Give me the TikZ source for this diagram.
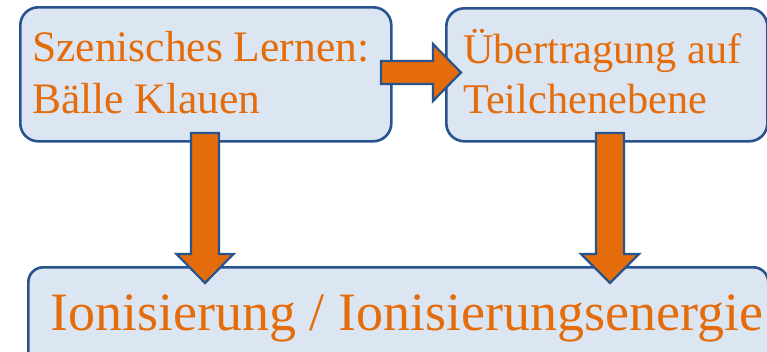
\documentclass[tikz,border=0pt]{standalone}
\usepackage{fontspec}
\setmainfont{Liberation Serif}
\definecolor{boxfill}{RGB}{220,230,243}
\definecolor{boxline}{RGB}{40,84,142}
\definecolor{orangetxt}{RGB}{228,108,10}
\begin{document}
\begin{tikzpicture}[x=1pt,y=-1pt,
  box/.style={draw=boxline, fill=boxfill, line width=2.6pt, rounded corners=18pt, inner sep=0pt, anchor=north west},
  lbl/.style={text=orangetxt, inner sep=0pt, anchor=base west},
  barrow/.style={draw=boxline, fill=orangetxt, line width=2.2pt, line join=miter}]
\clip (0,0) rectangle (767,351);
\fill[white] (0,0) rectangle (767,351);
% boxes
\node[box, minimum width=371pt, minimum height=134pt] (b1) at (19,6) {};
\node[box, minimum width=321pt, minimum height=133pt] (b2) at (445,7) {};
\node[box, rounded corners=15pt, minimum width=740pt, minimum height=110pt] (b3) at (27,266) {};
% texts
\node[lbl, font=\fontsize{43.5}{52}\selectfont] (t1a) at (32,61) {Szenisches Lernen:};
\node[lbl, font=\fontsize{43.5}{52}\selectfont] (t1b) at (32,113) {Bälle Klauen};
\node[lbl, font=\fontsize{42.3}{50}\selectfont] (t2a) at (463,63) {Übertragung auf};
\node[lbl, font=\fontsize{42.3}{50}\selectfont] (t2b) at (463,113) {Teilchenebene};
\node[lbl, font=\fontsize{54}{60}\selectfont] (t3) at (50,330) {Ionisierung / Ionisierungsenergie};
% block arrows
\draw[barrow] (381,61) -- (433,61) -- (433,44) -- (461,72.5) -- (433,101) -- (433,84) -- (381,84) -- cycle;
\draw[barrow] (191,133) -- (219,133) -- (219,254) -- (233.5,254) -- (205,283) -- (176.5,254) -- (191,254) -- cycle;
\draw[barrow] (596,133) -- (624,133) -- (624,254) -- (639,254) -- (610,283) -- (581,254) -- (596,254) -- cycle;
\end{tikzpicture}
\end{document}
